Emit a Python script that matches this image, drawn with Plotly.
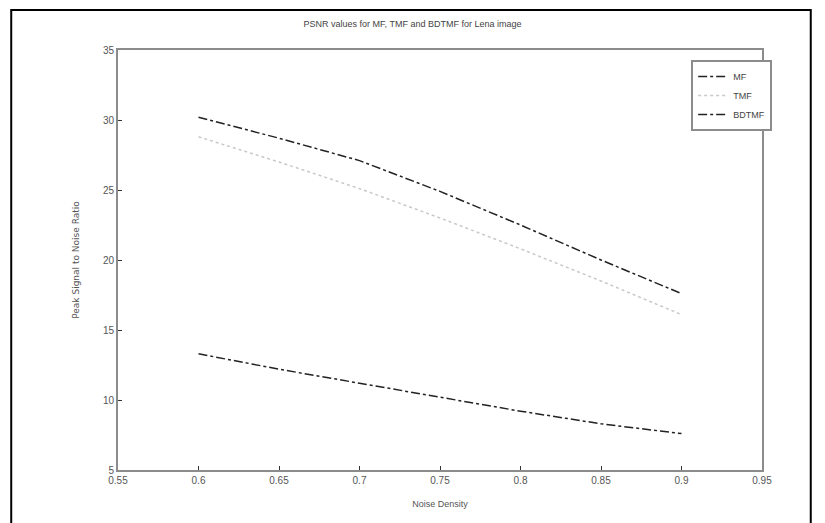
import plotly.graph_objects as go

noise_density = [0.6, 0.65, 0.7, 0.75, 0.8, 0.85, 0.9]
psnr_mf = [30.2, 28.7, 27.1, 24.9, 22.5, 20.0, 17.6]
psnr_tmf = [28.8, 27.0, 25.1, 23.0, 20.8, 18.5, 16.1]
psnr_bdtmf = [13.3, 12.2, 11.2, 10.2, 9.2, 8.3, 7.6]
x_ticks = [0.55, 0.6, 0.65, 0.7, 0.75, 0.8, 0.85, 0.9, 0.95]
y_ticks = [5, 10, 15, 20, 25, 30, 35]

fig = go.Figure()
fig.add_trace(go.Scatter(x=noise_density, y=psnr_mf, name="MF", mode="lines",
                         line=dict(color="#222222", width=1.5, dash="dashdot")))
fig.add_trace(go.Scatter(x=noise_density, y=psnr_tmf, name="TMF", mode="lines",
                         line=dict(color="#c8c8c8", width=1.5, dash="dot")))
fig.add_trace(go.Scatter(x=noise_density, y=psnr_bdtmf, name="BDTMF", mode="lines",
                         line=dict(color="#222222", width=1.5, dash="dashdot")))

axis_common = dict(showgrid=False, zeroline=False, showline=True, linecolor="#8c8c8c",
                   linewidth=2, mirror=True, ticks="inside", ticklen=4, tickcolor="#333333",
                   tickfont=dict(family="Liberation Sans Narrow, Arial", size=10, color="#555555"))

fig.update_layout(
    width=825, height=523,
    margin=dict(l=118, r=63, t=50, b=53),
    paper_bgcolor="white", plot_bgcolor="white",
    title=dict(text="PSNR values for MF, TMF and BDTMF for Lena image", x=0.5, xanchor="center",
               y=1 - 24 / 523, yanchor="middle",
               font=dict(family="Liberation Sans Narrow, Arial", size=9, color="#444444")),
    xaxis=dict(range=[0.55, 0.95], tickvals=x_ticks, ticktext=[f"{v:g}" for v in x_ticks],
               title=dict(text="Noise Density", standoff=16,
                          font=dict(family="Liberation Sans Narrow, Arial", size=9, color="#555555")),
               **axis_common),
    yaxis=dict(range=[5, 35], tickvals=y_ticks,
               title=dict(text="Peak Signal to Noise Ratio", standoff=22,
                          font=dict(family="DejaVu Sans", size=9, color="#555555")),
               **axis_common),
    legend=dict(x=0.890, y=0.976, xanchor="left", yanchor="top", bgcolor="white",
                bordercolor="#8c8c8c", borderwidth=2,
                font=dict(family="Liberation Sans Narrow, Arial", size=9, color="#444444"),
                itemwidth=30, tracegroupgap=2),
    showlegend=True,
)

fig.add_shape(type="rect", xref="paper", yref="paper", x0=-0.1658, x1=1.0757, y0=-0.2, y1=1.0952,
              line=dict(color="black", width=2), fillcolor="rgba(0,0,0,0)", layer="below")

fig.write_html("out.html", config={"displayModeBar": False},
               post_script="document.body.style.margin='0px';document.body.style.overflow='hidden';")
